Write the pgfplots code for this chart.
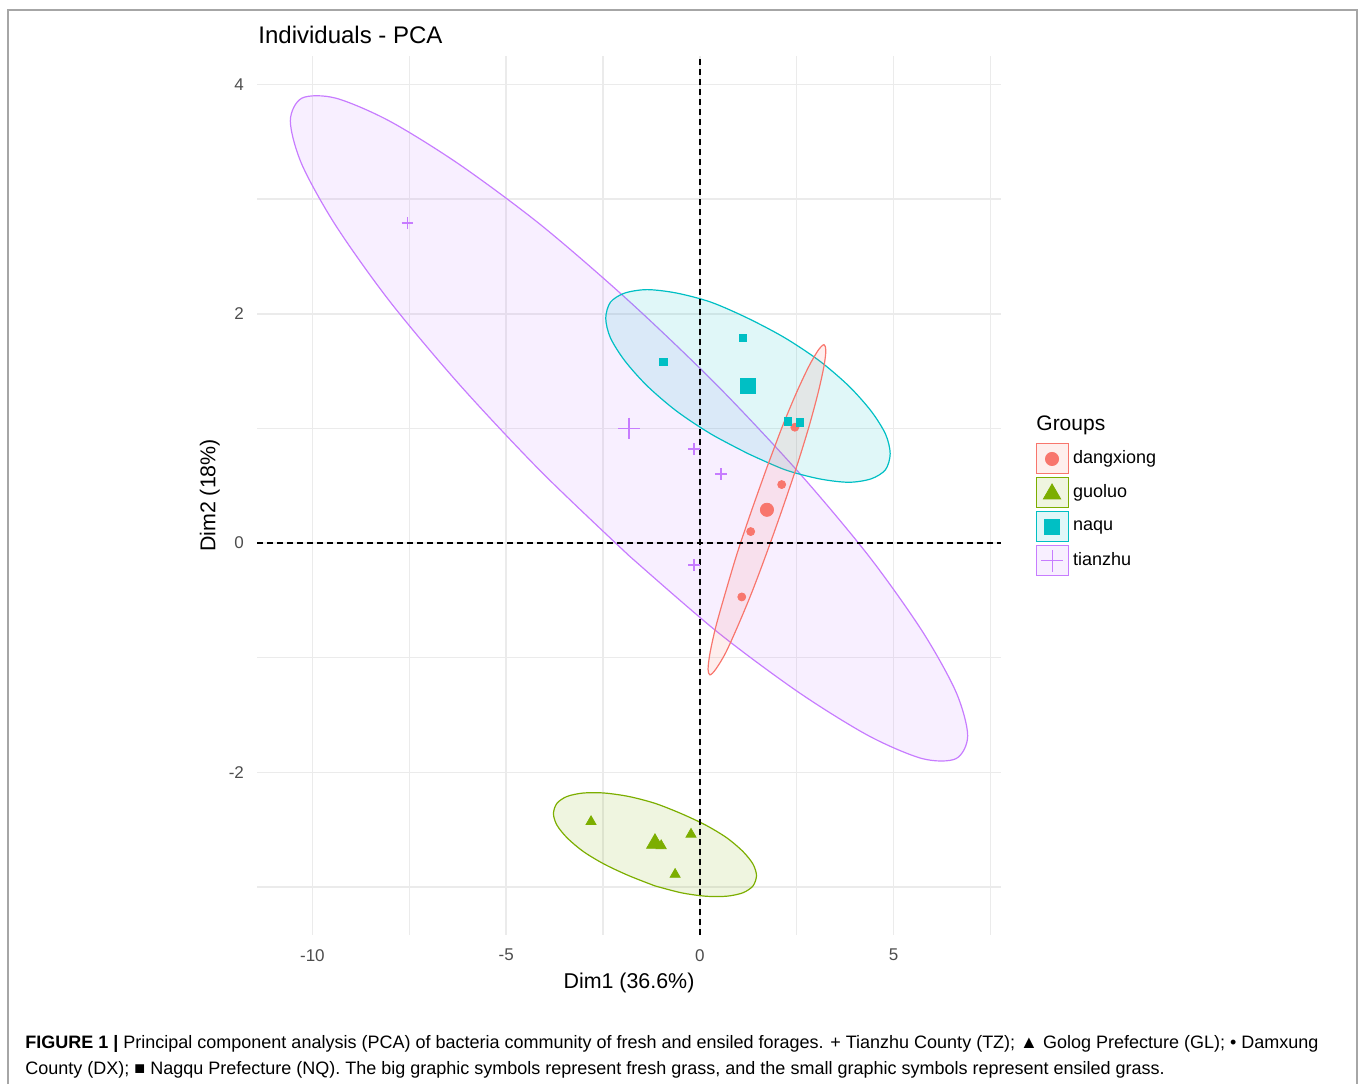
\documentclass[border=0pt]{standalone}
\usepackage{fontspec}
\setmainfont{Liberation Sans}
\usepackage{pgfplots}
\pgfplotsset{compat=1.18}
\definecolor{cRed}{HTML}{F8766D}
\definecolor{cGreen}{HTML}{7CAE00}
\definecolor{cCyan}{HTML}{00BFC4}
\definecolor{cPurple}{HTML}{C77CFF}
\definecolor{gridc}{HTML}{EBEBEB}
\definecolor{tickc}{HTML}{4D4D4D}
\definecolor{framec}{HTML}{A6A6A6}
\begin{document}
\begin{tikzpicture}
\path[use as bounding box] (0,0) rectangle (680pt,542pt);
\draw[framec, line width=0.75pt] (4pt,0pt) -- (4pt,537pt) -- (678.5pt,537pt) -- (678.5pt,0pt);
\node[anchor=base west, inner sep=0pt, font=\fontsize{12}{14}\selectfont] at (129pt,520pt) {Individuals - PCA};
\node[anchor=west, inner sep=0pt, font=\fontsize{10.5}{12}\selectfont] at (518pt,329.5pt) {Groups};
\begin{axis}[
  at={(128.5pt,74.4pt)}, anchor=south west,
  scale only axis, width=372pt, height=439.75pt,
  xmin=-11.43, xmax=7.77, ymin=-3.42, ymax=4.25,
  axis line style={draw=none},
  tick style={draw=none},
  xtick={-10,-5,0,5}, xticklabels={-10,-5,0,5},
  ytick={-2,0,2,4}, yticklabels={-2,0,2,4},
  minor xtick={-7.5,-2.5,2.5,7.5}, minor ytick={-3,-1,1,3},
  grid=both,
  major grid style={gridc, line width=0.8pt},
  minor grid style={gridc, line width=0.7pt},
  ticklabel style={font=\fontsize{8.5}{10}\selectfont, text=tickc},
  xticklabel style={yshift=-3.5pt},
  yticklabel style={xshift=-3pt},
  xlabel={Dim1 (36.6\%)}, ylabel={Dim2 (18\%)},
  label style={font=\fontsize{10.7}{12}\selectfont},
  xlabel style={at={(axis description cs:0.5,-0.0545)}, anchor=center},
  ylabel style={at={(axis description cs:-0.0635,0.5)}, anchor=center},
  legend style={at={(axis description cs:1.0464,0.5608)}, anchor=north west,
    draw=none, fill=none, inner sep=0pt, outer sep=0pt, row sep=0pt,
    font=\fontsize{9}{10}\selectfont,
    nodes={inner sep=0.75pt, minimum height=17pt},
    /tikz/every odd column/.append style={column sep=1.5pt}},
  legend cell align=left,
]
% ellipses
\addplot[forget plot, smooth, draw=cPurple, line width=0.6pt, fill=cPurple, fill opacity=0.12, draw opacity=1] coordinates {
(-1.83,-0.11) (-4.09,0.62) (-6.20,1.38) (-8.01,2.11) (-9.40,2.77) (-10.27,3.30) (-10.57,3.68) (-10.27,3.88) (-9.40,3.88) (-8.01,3.68) (-6.20,3.30) (-4.09,2.77) (-1.83,2.11) (0.43,1.38) (2.54,0.62) (4.35,-0.11) (5.74,-0.77) (6.61,-1.30) (6.91,-1.68) (6.61,-1.88) (5.74,-1.88) (4.35,-1.68) (2.54,-1.30) (0.43,-0.77) (-1.83,-0.11)};
\addplot[forget plot, smooth, draw=cCyan, line width=0.6pt, fill=cCyan, fill opacity=0.12, draw opacity=1] coordinates {
(1.24,0.78) (0.29,0.95) (-0.60,1.15) (-1.36,1.37) (-1.94,1.59) (-2.31,1.79) (-2.43,1.96) (-2.31,2.10) (-1.94,2.18) (-1.36,2.21) (-0.60,2.18) (0.29,2.10) (1.24,1.96) (2.19,1.79) (3.08,1.59) (3.84,1.37) (4.42,1.15) (4.79,0.95) (4.91,0.78) (4.79,0.64) (4.42,0.56) (3.84,0.53) (3.08,0.56) (2.19,0.64) (1.24,0.78)};
\addplot[forget plot, smooth, draw=cRed, line width=0.6pt, fill=cRed, fill opacity=0.12, draw opacity=1] coordinates {
(1.73,0.66) (1.34,0.29) (0.97,-0.08) (0.66,-0.43) (0.41,-0.73) (0.26,-0.96) (0.21,-1.10) (0.26,-1.15) (0.41,-1.10) (0.66,-0.96) (0.97,-0.73) (1.34,-0.43) (1.73,-0.08) (2.12,0.29) (2.49,0.66) (2.81,1.01) (3.05,1.31) (3.20,1.54) (3.25,1.68) (3.20,1.73) (3.05,1.68) (2.81,1.54) (2.49,1.31) (2.12,1.01) (1.73,0.66)};
\addplot[forget plot, smooth, draw=cGreen, line width=0.6pt, fill=cGreen, fill opacity=0.12, draw opacity=1] coordinates {
(-1.16,-2.99) (-1.84,-2.90) (-2.47,-2.80) (-3.01,-2.69) (-3.43,-2.57) (-3.69,-2.46) (-3.78,-2.36) (-3.69,-2.27) (-3.43,-2.21) (-3.01,-2.18) (-2.47,-2.18) (-1.84,-2.21) (-1.16,-2.27) (-0.48,-2.36) (0.15,-2.46) (0.69,-2.57) (1.11,-2.69) (1.37,-2.80) (1.46,-2.90) (1.37,-2.99) (1.11,-3.05) (0.69,-3.08) (0.15,-3.08) (-0.48,-3.05) (-1.16,-2.99)};
% reference lines
\addplot[forget plot, black, line width=0.8pt, dash pattern=on 3pt off 2pt] coordinates {(-11.43,0) (7.77,0)};
\addplot[forget plot, black, line width=0.8pt, dash pattern=on 3pt off 2pt] coordinates {(0,-3.42) (0,4.25)};
% points: small (ensiled)
\addplot[forget plot, only marks, mark=*, cRed, mark size=2pt] coordinates {(2.45,1.01) (2.11,0.51) (1.31,0.10) (1.08,-0.47)};
\addplot[forget plot, only marks, mark=triangle*, cGreen, mark size=2.9pt] coordinates {(-2.81,-2.43) (-0.23,-2.54) (-0.64,-2.89) (-1.00,-2.64)};
\addplot[forget plot, only marks, mark=square*, cCyan, mark size=1.9pt] coordinates {(-0.95,1.58) (1.11,1.79) (2.27,1.06) (2.58,1.05)};
\addplot[forget plot, only marks, mark=+, cPurple, mark size=2.9pt, mark options={line width=0.75pt}] coordinates {(-7.55,2.79) (-0.15,0.82) (0.54,0.60) (-0.15,-0.19)};
% points: big (fresh)
\addplot[forget plot, only marks, mark=*, cRed, mark size=3.3pt] coordinates {(1.73,0.29)};
\addplot[forget plot, only marks, mark=triangle*, cGreen, mark size=4.8pt] coordinates {(-1.16,-2.62)};
\addplot[forget plot, only marks, mark=square*, cCyan, mark size=3.75pt] coordinates {(1.24,1.37)};
\addplot[forget plot, only marks, mark=+, cPurple, mark size=5.4pt, mark options={line width=0.8pt}] coordinates {(-1.83,1.00)};
% legend
\addlegendimage{legend image code/.code={
  \draw[draw=cRed, fill=cRed!12, line width=0.5pt] (0pt,-7.5pt) rectangle (16pt,7.5pt);
  \draw[cRed] plot[only marks, mark=*, mark size=3.3pt] coordinates {(8pt,0pt)};}}
\addlegendentry{dangxiong}
\addlegendimage{legend image code/.code={
  \draw[draw=cGreen, fill=cGreen!12, line width=0.5pt] (0pt,-7.5pt) rectangle (16pt,7.5pt);
  \draw[cGreen] plot[only marks, mark=triangle*, mark size=5pt] coordinates {(8pt,-0.5pt)};}}
\addlegendentry{guoluo}
\addlegendimage{legend image code/.code={
  \draw[draw=cCyan, fill=cCyan!12, line width=0.5pt] (0pt,-7.5pt) rectangle (16pt,7.5pt);
  \draw[cCyan] plot[only marks, mark=square*, mark size=3.75pt] coordinates {(8pt,0pt)};}}
\addlegendentry{naqu}
\addlegendimage{legend image code/.code={
  \draw[draw=cPurple, fill=cPurple!12, line width=0.5pt] (0pt,-7.5pt) rectangle (16pt,7.5pt);
  \draw[cPurple, line width=0.5pt] plot[only marks, mark=+, mark size=5.4pt] coordinates {(8pt,0pt)};}}
\addlegendentry{tianzhu}
\end{axis}
\node[anchor=base west, inner sep=0pt, font=\fontsize{9}{10}\selectfont] at (12.5pt,18pt) {\textbf{FIGURE 1 |} Principal component analysis (PCA) of bacteria community of fresh and ensiled forages. + Tianzhu County (TZ); ▲ Golog Prefecture (GL); • Damxung};
\node[anchor=base west, inner sep=0pt, font=\fontsize{9}{10}\selectfont] at (12.5pt,5pt) {County (DX); ■ Nagqu Prefecture (NQ). The big graphic symbols represent fresh grass, and the small graphic symbols represent ensiled grass.};
\end{tikzpicture}
\end{document}
